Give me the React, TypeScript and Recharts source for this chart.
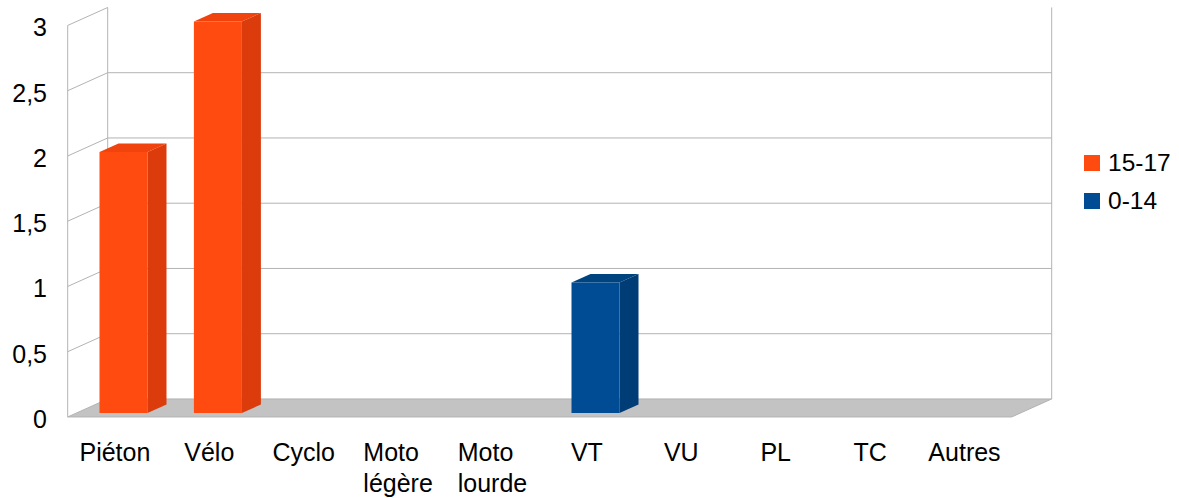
import React from "react";
import { BarChart, Bar, XAxis, YAxis, CartesianGrid, Legend } from "recharts";

const CATEGORIES = ["Piéton", "Vélo", "Cyclo", "Moto légère", "Moto lourde", "VT", "VU", "PL", "TC", "Autres"];
const AGE_15_17 = [2, 3, 0, 0, 0, 0, 0, 0, 0, 0];
const AGE_0_14 = [0, 0, 0, 0, 0, 1, 0, 0, 0, 0];
const Y_TICKS = [0, 0.5, 1, 1.5, 2, 2.5, 3];

const SERIES = [
  { key: "a1517", name: "15-17", front: "#ff4a10", side: "#dc3b0c", top: "#f0430e" },
  { key: "a014", name: "0-14", front: "#004c94", side: "#003c76", top: "#00447f" },
];

const DATA = CATEGORIES.map((cat, i) => ({ cat, a1517: AGE_15_17[i], a014: AGE_0_14[i] }));

const FONT = "'Liberation Sans', Arial, sans-serif";
const FS = 25;
const GRID = "#b3b3b3";
// 3d box: offset from front plane to back wall; bars stand at F of that depth
const DX = 40, DY = 18, F = 0.22, BAR_D = 0.475;

let ctx: CanvasRenderingContext2D | null = null;
function measure(s: string) {
  if (!ctx) ctx = document.createElement("canvas").getContext("2d");
  if (!ctx) return s.length * 13;
  ctx.font = `${FS}px ${FONT}`;
  return ctx.measureText(s).width;
}

function Wall(p: any) {
  const { x1, x2, y1 } = p;
  const top = p.y, bottom = p.y + p.height;
  const fx = x1 - DX * F, fy = y1 + DY * F;
  const bx = x1 + DX * (1 - F), by = y1 - DY * (1 - F);
  const bxr = x2 + DX * (1 - F);
  const isBottom = Math.abs(y1 - bottom) < 0.5;
  const isTop = Math.abs(y1 - top) < 0.5;

  if (isBottom) {
    return (
      <g key={p.key}>
        <polygon points={`${fx},${fy} ${bx},${by} ${bxr},${by} ${x2 - DX * F},${fy}`} fill="#c3c3c3" stroke={GRID} strokeWidth={1} />
        <line x1={fx} y1={top + DY * F} x2={fx} y2={fy} stroke={GRID} />
        <line x1={bx} y1={top - DY * (1 - F)} x2={bx} y2={by} stroke={GRID} />
        <line x1={bxr} y1={top - DY * (1 - F)} x2={bxr} y2={by} stroke={GRID} />
      </g>
    );
  }
  return (
    <g key={p.key}>
      <line x1={fx} y1={fy} x2={bx} y2={by} stroke={GRID} />
      {!isTop && <line x1={bx} y1={by} x2={bxr} y2={by} stroke={GRID} />}
    </g>
  );
}

function Box(p: any) {
  const { x, y, width: w, height: h, s } = p;
  if (!h || h <= 0) return null;
  const dx = DX * BAR_D, dy = DY * BAR_D;
  return (
    <g>
      <polygon points={`${x},${y} ${x + dx},${y - dy} ${x + w + dx},${y - dy} ${x + w},${y}`} fill={s.top} />
      <polygon points={`${x + w},${y} ${x + w + dx},${y - dy} ${x + w + dx},${y + h - dy} ${x + w},${y + h}`} fill={s.side} />
      <rect x={x} y={y} width={w} height={h} fill={s.front} />
    </g>
  );
}

function XTick({ x, y, payload }: any) {
  const lines = String(payload.value).split(" ");
  const cx = x - DX * F;
  const w = Math.max(...lines.map(measure));
  return (
    <g>
      {lines.map((l, i) => (
        <text key={i} x={cx - w / 2} y={y + 48 + i * 31} fontSize={FS} fontFamily={FONT} fill="#000">
          {l}
        </text>
      ))}
    </g>
  );
}

function YTick({ y, payload }: any) {
  return (
    <text x={47} y={y + DY * F + 11} textAnchor="end" fontSize={FS} fontFamily={FONT} fill="#000">
      {String(payload.value).replace(".", ",")}
    </text>
  );
}

function LegendBox({ payload }: any) {
  const order = SERIES.map((s) => s.name);
  const items = [...(payload || [])].sort((a: any, b: any) => order.indexOf(a.value) - order.indexOf(b.value));
  return (
    <div style={{ fontFamily: FONT, fontSize: 24.5, color: "#000" }}>
      {items.map((e: any) => (
        <div key={e.value} style={{ display: "flex", alignItems: "center", height: 37.5 }}>
          <span style={{ display: "inline-block", width: 16, height: 16, background: e.color, marginRight: 8 }} />
          <span>{e.value}</span>
        </div>
      ))}
    </div>
  );
}

export default function App() {
  return (
    <div style={{ position: "absolute", left: 0, top: 0, background: "#fff" }}>
      <BarChart width={1179} height={498} data={DATA} margin={{ top: 21.5, right: 158.5, left: 0, bottom: 0 }} barSize={48}>
        <CartesianGrid vertical={false} horizontal={(p: any) => <Wall {...p} />} />
        <XAxis dataKey="cat" height={85} interval={0} tickSize={0} tickMargin={0} axisLine={false} tickLine={false} tick={(p: any) => <XTick {...p} />} />
        <YAxis domain={[0, 3]} ticks={Y_TICKS} width={76.5} axisLine={false} tickLine={false} tick={(p: any) => <YTick {...p} />} />
        <Legend layout="vertical" align="center" verticalAlign="middle" content={<LegendBox />} wrapperStyle={{ left: 1084, top: 144.5, width: "auto", height: "auto" }} />
        {SERIES.map((s) => (
          <Bar key={s.key} dataKey={s.key} name={s.name} stackId="s" fill={s.front} isAnimationActive={false} shape={(p: any) => <Box {...p} s={s} />} />
        ))}
      </BarChart>
    </div>
  );
}
